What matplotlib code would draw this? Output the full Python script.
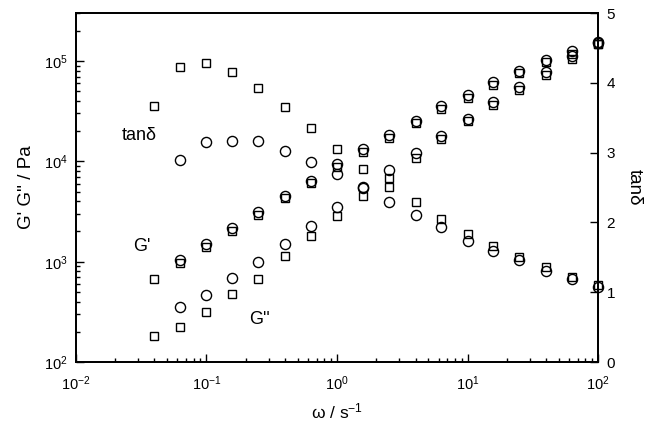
import matplotlib
matplotlib.use('Agg')
import matplotlib.pyplot as plt
from matplotlib.ticker import LogLocator, FixedLocator, NullFormatter

plt.rcParams['font.family'] = ['Liberation Sans', 'DejaVu Sans']
plt.rcParams['mathtext.fontset'] = 'custom'
plt.rcParams['mathtext.rm'] = 'Liberation Sans'
plt.rcParams['mathtext.it'] = 'Liberation Sans:italic'

# angular frequency, rad/s
omega = [0.04, 0.063, 0.1, 0.158, 0.25, 0.4, 0.63, 1.0, 1.58, 2.5,
         4.0, 6.3, 10, 15.8, 25, 40, 63, 100]

# sample A (squares)
g1_sq = [676, 977, 1410, 2040, 2950, 4270, 6030, 8710, 12300, 17000,
         24000, 33100, 42700, 57500, 75900, 97700, 117500, 147900]
g2_sq = [182, 225, 318, 479, 676, 1150, 1820, 2880, 4470, 6870,
         10900, 16600, 25100, 36300, 51900, 73300, 104700, 146200]
tan_sq = [3.67, 4.23, 4.29, 4.15, 3.93, 3.65, 3.35, 3.05, 2.77, 2.51,
          2.29, 2.05, 1.84, 1.67, 1.50, 1.36, 1.22, 1.10]

# sample B (circles), no point at 0.04
omega_c = omega[1:]
g1_ci = [1047, 1514, 2170, 3140, 4500, 6360, 9330, 13200, 18200,
         25300, 35200, 45700, 61200, 80000, 101600, 125900, 153800]
g2_ci = [357, 468, 686, 1000, 1510, 2290, 3530, 5500, 8190,
         12200, 17900, 26700, 38600, 54600, 77100, 110900, 151000]
tan_ci = [2.90, 3.16, 3.17, 3.17, 3.03, 2.86, 2.69, 2.49, 2.29,
          2.10, 1.93, 1.74, 1.59, 1.46, 1.31, 1.19, 1.08]

fig = plt.figure(figsize=(6.48, 4.22), dpi=100)
ax = fig.add_axes([0.117, 0.142, 0.806, 0.827])
ax2 = ax.twinx()

sq = dict(marker='s', ms=6.3, mfc='none', mec='black', mew=1.0, ls='none', clip_on=False)
ci = dict(marker='o', ms=7.3, mfc='none', mec='black', mew=1.0, ls='none', clip_on=False)

ax.plot(omega, g1_sq, **sq)
ax.plot(omega, g2_sq, **sq)
ax.plot(omega_c, g1_ci, **ci)
ax.plot(omega_c, g2_ci, **ci)
ax2.plot(omega, tan_sq, **sq)
ax2.plot(omega_c, tan_ci, **ci)

ax.set_xscale('log')
ax.set_yscale('log')
ax.set_xlim(1e-2, 1e2)
ax.set_ylim(1e2, 3e5)
ax2.set_ylim(0, 5)

ax.xaxis.set_major_locator(LogLocator(base=10, numticks=10))
ax.xaxis.set_minor_locator(LogLocator(base=10, subs=range(2, 10), numticks=10))
ax.xaxis.set_minor_formatter(NullFormatter())
ax.yaxis.set_major_locator(LogLocator(base=10, numticks=10))
ax.yaxis.set_minor_locator(LogLocator(base=10, subs=range(2, 10), numticks=10))
ax.yaxis.set_minor_formatter(NullFormatter())
ax2.yaxis.set_major_locator(FixedLocator([0, 1, 2, 3, 4, 5]))

ax.tick_params(which='both', direction='in', top=False, right=False, labelsize=10.5, width=1.0)
ax.tick_params(which='major', length=6)
ax.tick_params(which='minor', length=3)
ax.tick_params(axis='x', which='major', pad=9)
ax.tick_params(axis='y', which='major', pad=6)
ax2.tick_params(axis='y', which='major', direction='in', length=6, labelsize=11, width=1.0, pad=6)

for a in (ax, ax2):
    for s in a.spines.values():
        s.set_linewidth(1.3)

ax.set_xlabel('\u03c9 / s$^{-1}$', fontsize=12.5, labelpad=6)
ax.set_ylabel("G' G'' / Pa", fontsize=13.5, labelpad=6)
ax2.set_ylabel('tan\u03b4', fontsize=13.5, rotation=270, labelpad=20)

ax.text(0.0304, 1.8e4, 'tan\u03b4', fontsize=13, ha='center', va='center')
ax.text(0.032, 1.42e3, "G'", fontsize=13, ha='center', va='center')
ax.text(0.257, 265, "G''", fontsize=13, ha='center', va='center')

fig.savefig('out.png', dpi=100)
